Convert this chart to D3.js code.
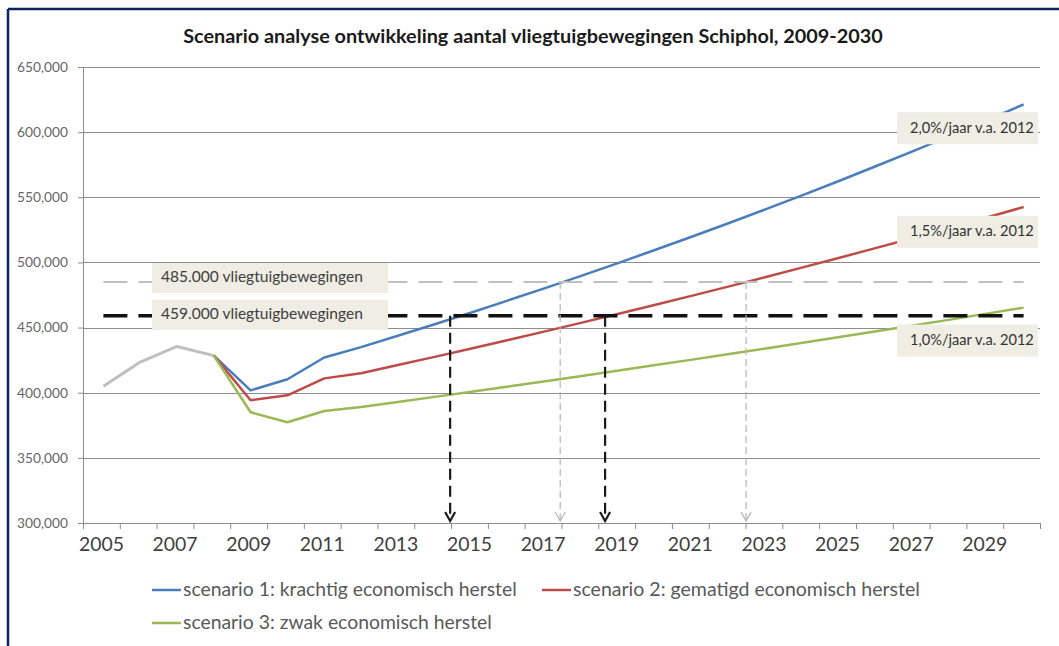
<!DOCTYPE html>
<html>
<head>
<meta charset="utf-8">
<script src="https://cdn.jsdelivr.net/npm/d3@7"></script>
<style>
  body { margin: 0; background: #fff; }
  svg { display: block; }
</style>
</head>
<body>
<div id="chart"></div>
<script>
// categories
var years = d3.range(2005, 2031);
var historyYears = [2005, 2006, 2007, 2008];
var scenarioYears = d3.range(2008, 2031);

// series values (vliegtuigbewegingen)
var historyValues = [405000, 423500, 435500, 428500];
var scenario1 = [428500, 401800, 410300, 427000, 435000, 443700, 452600, 461600, 470900, 480300, 489900, 499700,
                 509700, 519900, 530300, 540900, 551700, 562700, 574000, 585500, 597200, 609100, 621300];
var scenario2 = [428500, 394200, 398000, 411000, 415000, 421200, 427500, 434000, 440500, 447100, 453800, 460600,
                 467500, 474500, 481600, 488800, 496200, 503600, 511200, 518800, 526600, 534500, 542500];
var scenario3 = [428500, 385000, 377300, 386000, 389000, 392900, 396800, 400800, 404800, 408800, 412900, 417100,
                 421200, 425400, 429700, 434000, 438300, 442700, 447100, 451600, 456100, 460700, 465300];

var scenarioNames = ["scenario 1: krachtig economisch herstel",
                     "scenario 2: gematigd economisch herstel",
                     "scenario 3: zwak economisch herstel"];

// grenswaarden en jaartallen waar de scenario's ze raken
var thresholds = [485000, 459000];
var thresholdLabels = ["485.000 vliegtuigbewegingen", "459.000 vliegtuigbewegingen"];
var arrowYears485 = [2017.41, 2022.46];
var arrowYears459 = [2014.42, 2018.63];

var rateLabels = ["2,0%/jaar v.a. 2012", "1,5%/jaar v.a. 2012", "1,0%/jaar v.a. 2012"];
var rateLabelValues = [603000, 523500, 440000];

var yTicks = [300000, 350000, 400000, 450000, 500000, 550000, 600000, 650000];

var title = "Scenario analyse ontwikkeling aantal vliegtuigbewegingen Schiphol, 2009-2030";

(function () { // IIFE so names like "top" don't hit window globals
    var width = 1059, height = 646;
    var plotLeft = 83, plotRight = 1040, plotTop = 67, plotBottom = 523;
    var colors = ["#4a7ebb", "#be4b48", "#98b954"];
    var font = "Lato, 'Open Sans', sans-serif";

    var svg = d3.select("#chart").append("svg")
        .attr("width", width)
        .attr("height", height);

    // fit a text to a measured width
    function fit(sel, w) {
        var cur = sel.node().getComputedTextLength();
        var fs = parseFloat(sel.attr("font-size"));
        sel.attr("font-size", fs * w / cur);
        return sel;
    }

    // frame
    svg.append("line").attr("x1", 8).attr("x2", width).attr("y1", 9).attr("y2", 9)
        .attr("stroke", "#0d2461").attr("stroke-width", 2.5);
    svg.append("line").attr("x1", 8).attr("x2", 8).attr("y1", 9).attr("y2", height)
        .attr("stroke", "#0d2461").attr("stroke-width", 2.5);

    var xLin = d3.scaleLinear().domain([2005, 2031]).range([plotLeft, plotRight]);
    var xBand = d3.scaleBand().domain(years).range([plotLeft, plotRight]).padding(0);
    var y = d3.scaleLinear().domain([300000, 650000]).range([plotBottom, plotTop]);
    function xPos(yr) { return xLin(yr + 0.5) + 2; } // Excel plots slightly right of band centre

    // title
    var t = svg.append("text")
        .attr("x", 533).attr("y", 43)
        .attr("text-anchor", "middle")
        .attr("font-family", font).attr("font-weight", "bold")
        .attr("font-size", 17).attr("fill", "#1a1a1a")
        .text(title);
    fit(t, 700);

    // gridlines
    svg.append("g").selectAll("line")
        .data(yTicks.slice(1))
        .enter().append("line")
        .attr("x1", plotLeft).attr("x2", plotRight)
        .attr("y1", function (d) { return Math.round(y(d)) + 0.5; })
        .attr("y2", function (d) { return Math.round(y(d)) + 0.5; })
        .attr("stroke", "#8c8c8c").attr("stroke-width", 1);

    // y axis
    var axisY = svg.append("g")
        .attr("transform", "translate(" + plotLeft + ",0)")
        .call(d3.axisLeft(y).tickValues(yTicks).tickSize(5).tickPadding(10).tickFormat(d3.format(",")));
    axisY.select(".domain").attr("stroke", "#8c8c8c");
    axisY.selectAll("line").attr("stroke", "#8c8c8c");
    axisY.selectAll("text")
        .attr("font-family", font).attr("font-size", 12.5).attr("fill", "#666");
    axisY.selectAll("text").each(function () { fit(d3.select(this), 51); });

    // x axis ticks on category boundaries
    var axisX = svg.append("g")
        .attr("transform", "translate(0," + plotBottom + ")")
        .call(d3.axisBottom(xLin).tickValues(d3.range(2005, 2032)).tickSize(6).tickFormat(""));
    axisX.select(".domain").attr("stroke", "#8c8c8c");
    axisX.selectAll("line").attr("stroke", "#8c8c8c");

    var axisXLabels = svg.append("g")
        .attr("transform", "translate(0," + plotBottom + ")")
        .call(d3.axisBottom(xBand).tickSize(0).tickPadding(14)
            .tickValues(years.filter(function (d) { return d % 2 === 1; })));
    axisXLabels.select(".domain").remove();
    axisXLabels.selectAll("text")
        .attr("font-family", font).attr("font-size", 19).attr("fill", "#404040");
    axisXLabels.selectAll("text").each(function () { fit(d3.select(this), 45); });

    // lines
    var line = d3.line()
        .x(function (d) { return xPos(d[0]); })
        .y(function (d) { return y(d[1]); });

    svg.append("path")
        .datum(d3.zip(historyYears, historyValues))
        .attr("d", line)
        .attr("fill", "none").attr("stroke", "#bfbfbf").attr("stroke-width", 3)
        .attr("stroke-linejoin", "round");

    [scenario1, scenario2, scenario3].forEach(function (s, i) {
        svg.append("path")
            .datum(d3.zip(scenarioYears, s))
            .attr("d", line)
            .attr("fill", "none").attr("stroke", colors[i]).attr("stroke-width", 2.5)
            .attr("stroke-linejoin", "round");
    });

    // threshold lines
    svg.append("line")
        .attr("x1", xPos(2005)).attr("x2", xPos(2030))
        .attr("y1", y(thresholds[0])).attr("y2", y(thresholds[0]))
        .attr("stroke", "#c0c0c0").attr("stroke-width", 2)
        .attr("stroke-dasharray", "24,11");
    svg.append("line")
        .attr("x1", xPos(2005)).attr("x2", xPos(2030))
        .attr("y1", y(thresholds[1])).attr("y2", y(thresholds[1]))
        .attr("stroke", "#111").attr("stroke-width", 3.5)
        .attr("stroke-dasharray", "24,11");

    // arrows down to the axis
    function arrow(yr, from, color, w, dash) {
        var x = xPos(yr);
        var g = svg.append("g");
        g.append("line")
            .attr("x1", x).attr("x2", x)
            .attr("y1", y(from)).attr("y2", plotBottom - 3)
            .attr("stroke", color).attr("stroke-width", w)
            .attr("stroke-dasharray", dash);
        g.append("path")
            .attr("d", "M" + (x - 5) + "," + (plotBottom - 11) + "L" + x + "," + (plotBottom - 2) + "L" + (x + 5) + "," + (plotBottom - 11))
            .attr("fill", "none").attr("stroke", color).attr("stroke-width", w);
    }
    arrowYears485.forEach(function (yr) { arrow(yr, thresholds[0], "#b4b4b4", 1.2, "7,4"); });
    arrowYears459.forEach(function (yr) { arrow(yr, thresholds[1], "#1a1a1a", 2.2, "11,6"); });

    // threshold label boxes
    thresholdLabels.forEach(function (txt, i) {
        var cy = y(thresholds[i]) - (i === 0 ? 4 : 1);
        svg.append("rect")
            .attr("x", 152).attr("y", cy - 15)
            .attr("width", 236).attr("height", 30)
            .attr("fill", "#efede4");
        var tt = svg.append("text")
            .attr("x", 161).attr("y", cy + 4.5)
            .attr("font-family", font).attr("font-size", 13).attr("fill", "#404040")
            .text(txt);
        fit(tt, 202);
    });

    // rate label boxes
    rateLabels.forEach(function (txt, i) {
        var cy = y(rateLabelValues[i]);
        svg.append("rect")
            .attr("x", 897).attr("y", cy - 16)
            .attr("width", 141).attr("height", 32)
            .attr("fill", "#efede4");
        var tt = svg.append("text")
            .attr("x", 910).attr("y", cy + 4.5)
            .attr("font-family", font).attr("font-size", 12).attr("fill", "#333")
            .text(txt);
        fit(tt, 124);
    });

    // legend
    var legendPos = [[152, 590], [542, 590], [152, 623]];
    var legendWidths = [334, 347, 309];
    scenarioNames.forEach(function (name, i) {
        var p = legendPos[i];
        svg.append("line")
            .attr("x1", p[0]).attr("x2", p[0] + 29)
            .attr("y1", p[1]).attr("y2", p[1])
            .attr("stroke", colors[i]).attr("stroke-width", 2.5);
        var tt = svg.append("text")
            .attr("x", p[0] + 31).attr("y", p[1] + 6)
            .attr("font-family", font).attr("font-size", 17).attr("fill", "#595959")
            .text(name);
        fit(tt, legendWidths[i]);
    });
})();
</script>
</body>
</html>
